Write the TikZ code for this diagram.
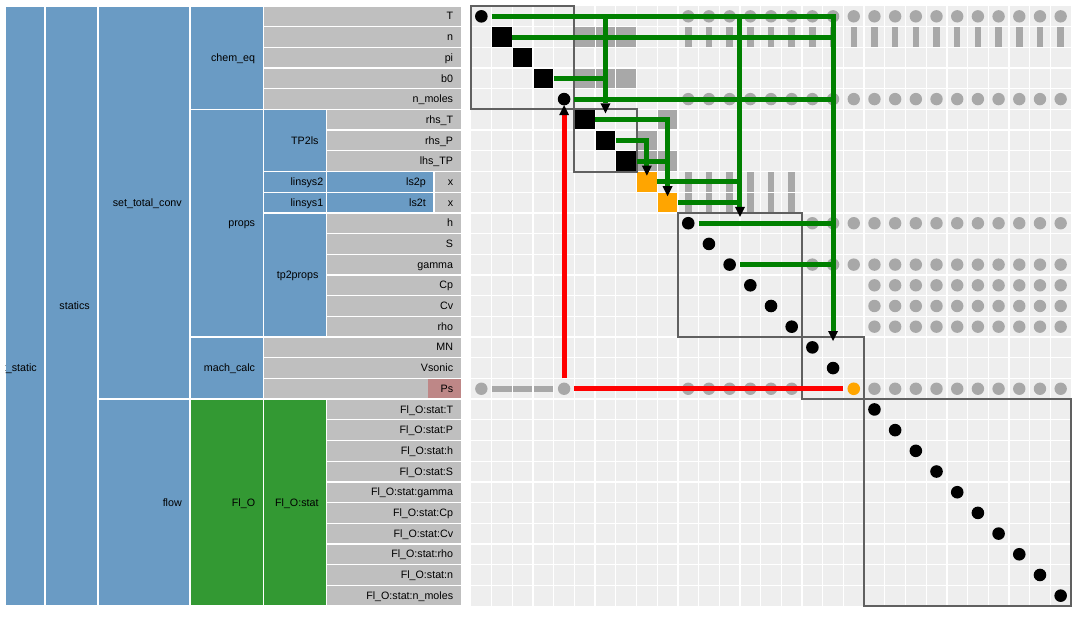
\documentclass[tikz,border=0pt]{standalone}
\usepackage{fontspec}
\setmainfont{Liberation Sans}
\usetikzlibrary{calc}
\definecolor{grp}{RGB}{106,155,196}
\definecolor{varc}{RGB}{191,191,191}
\definecolor{flo}{RGB}{51,153,51}
\definecolor{psc}{RGB}{190,135,135}
\definecolor{cellbg}{RGB}{238,238,238}
\definecolor{conn}{RGB}{168,168,168}
\definecolor{boxc}{RGB}{96,96,96}
\definecolor{arrg}{RGB}{0,128,0}
\definecolor{orng}{RGB}{255,165,0}
\newcommand\mX[1]{(471+(#1)*20.6897)}
\newcommand\mY[1]{(6+(#1)*20.6897)}
\newcommand\hcell[5]{\filldraw[fill=#5,hcell] (#1,{\mY{#3}}) rectangle (#2,{\mY{#4}});}
\newcommand\hlab[4]{\node[lbl] (#1) at (#2,{\mY{#3}+3.6}) {#4};}
\tikzset{
 hcell/.style={draw=white,line width=1.3pt},
 lbl/.style={anchor=base east,inner sep=0pt,font=\fontsize{10.7}{12}\selectfont},
 dcirc/.style={circle,fill=black,minimum size=12.6pt,inner sep=0pt},
 dsq/.style={fill=black,minimum size=19.4pt,inner sep=0pt},
 osq/.style={fill=orng,minimum size=19.4pt,inner sep=0pt},
 ocirc/.style={circle,fill=orng,minimum size=12.6pt,inner sep=0pt},
 gcirc/.style={circle,fill=conn,minimum size=12.4pt,inner sep=0pt},
 gsq/.style={fill=conn,minimum size=19.4pt,inner sep=0pt},
 gvbar/.style={fill=conn,minimum width=6.5pt,minimum height=19.4pt,inner sep=0pt},
 ghbar/.style={fill=conn,minimum width=19.4pt,minimum height=6pt,inner sep=0pt},
 grpbox/.style={draw=boxc,line width=2pt},
 garr/.style={draw=arrg,line width=5pt},
 rarr/.style={draw=red,line width=5pt},
 tipfill/.style={fill=black},
}
\begin{document}
\begin{tikzpicture}[x=1pt,y=-1pt]
\useasboundingbox (0,0) rectangle (1087,617);
\fill[white] (0,0) rectangle (1087,617);
% ---------------- hierarchy ----------------
\hcell{5.3}{45}{0}{29}{grp}
\begin{scope}
\clip (5.95,{\mY{0}}) rectangle (44.35,{\mY{29}});
\node[lbl] (root) at (37,371.6) {t\_static};
\end{scope}
\hcell{45}{98}{0}{29}{grp}
\hlab{statics}{90}{14.5}{statics}
\hcell{98}{190}{0}{19}{grp}
\hlab{stc}{182}{9.5}{set\_total\_conv}
\hcell{98}{190}{19}{29}{grp}
\hlab{flow}{182}{24}{flow}
\hcell{190}{263.3}{0}{5}{grp}
\hlab{chem}{255.3}{2.5}{chem\_eq}
\hcell{190}{263.3}{5}{16}{grp}
\hlab{props}{255.3}{10.5}{props}
\hcell{190}{263.3}{16}{19}{grp}
\hlab{mach}{255.3}{17.5}{mach\_calc}
\hcell{190}{263.3}{19}{29}{flo}
\hlab{flo}{255.3}{24}{Fl\_O}
% chem_eq variables
\foreach \r/\t in {0/T,1/n,2/pi,3/b0,4/n\_moles}{
  \hcell{263.3}{461.3}{\r}{\r+1}{varc}
  \hlab{v\r}{453.3}{\r+0.5}{\t}
}
\hcell{263.3}{326.7}{5}{8}{grp}
\hlab{tp2ls}{318.7}{6.5}{TP2ls}
\foreach \r/\t in {5/rhs\_T,6/rhs\_P,7/lhs\_TP}{
  \hcell{326.7}{461.3}{\r}{\r+1}{varc}
  \hlab{v\r}{453.3}{\r+0.5}{\t}
}
\hcell{263.3}{326.7}{8}{9}{grp}
\hlab{ls2}{323.5}{8.5}{linsys2}
\hcell{326.7}{434}{8}{9}{grp}
\hlab{ls2p}{426}{8.5}{ls2p}
\hcell{434}{461.3}{8}{9}{varc}
\hlab{v8}{453.3}{8.5}{x}
\hcell{263.3}{326.7}{9}{10}{grp}
\hlab{ls1}{323.5}{9.5}{linsys1}
\hcell{326.7}{434}{9}{10}{grp}
\hlab{ls2t}{426}{9.5}{ls2t}
\hcell{434}{461.3}{9}{10}{varc}
\hlab{v9}{453.3}{9.5}{x}
\hcell{263.3}{326.7}{10}{16}{grp}
\hlab{tpp}{318.7}{13}{tp2props}
\foreach \r/\t in {10/h,11/S,12/gamma,13/Cp,14/Cv,15/rho}{
  \hcell{326.7}{461.3}{\r}{\r+1}{varc}
  \hlab{v\r}{453.3}{\r+0.5}{\t}
}
\foreach \r/\t in {16/MN,17/Vsonic,18/Ps}{
  \hcell{263.3}{461.3}{\r}{\r+1}{varc}
}
\fill[psc] (428,{\mY{18}+0.65}) rectangle (460.65,{\mY{19}-0.65});
\foreach \r/\t in {16/MN,17/Vsonic,18/Ps}{
  \hlab{v\r}{453.3}{\r+0.5}{\t}
}
\hcell{263.3}{326.7}{19}{29}{flo}
\hlab{flst}{318.7}{24}{Fl\_O:stat}
\foreach \r/\t in {19/T,20/P,21/h,22/S,23/gamma,24/Cp,25/Cv,26/rho,27/n,28/n\_moles}{
  \hcell{326.7}{461.3}{\r}{\r+1}{varc}
  \hlab{v\r}{453.3}{\r+0.5}{Fl\_O:stat:\t}
}
% ---------------- matrix ----------------
\fill[cellbg] ({\mX{0}},{\mY{0}}) rectangle ({\mX{29}},{\mY{29}});
\foreach \i in {1,...,28}{
  \draw[white,line width=1.3pt] ({\mX{\i}},{\mY{0}}) -- ({\mX{\i}},{\mY{29}});
  \draw[white,line width=1.3pt] ({\mX{0}},{\mY{\i}}) -- ({\mX{29}},{\mY{\i}});
}
% off-diagonal connections
\foreach \c in {10,...,28}{
  \node[gcirc] (a0-\c) at ({\mX{\c+0.5}},{\mY{0.5}}) {};
  \node[gvbar] (a1-\c) at ({\mX{\c+0.5}},{\mY{1.5}}) {};
  \node[gcirc] (a4-\c) at ({\mX{\c+0.5}},{\mY{4.5}}) {};
}
\foreach \c in {5,6,7}{
  \node[gsq] (s1-\c) at ({\mX{\c+0.5}},{\mY{1.5}}) {};
  \node[gsq] (s3-\c) at ({\mX{\c+0.5}},{\mY{3.5}}) {};
}
\node[gsq] (s5-9) at ({\mX{9.5}},{\mY{5.5}}) {};
\node[gsq] (s6-8) at ({\mX{8.5}},{\mY{6.5}}) {};
\node[gsq] (s7-8) at ({\mX{8.5}},{\mY{7.5}}) {};
\node[gsq] (s7-9) at ({\mX{9.5}},{\mY{7.5}}) {};
\foreach \c in {10,...,15}{
  \node[gvbar] (b8-\c) at ({\mX{\c+0.5}},{\mY{8.5}}) {};
  \node[gvbar] (b9-\c) at ({\mX{\c+0.5}},{\mY{9.5}}) {};
  \node[gcirc] (a18-\c) at ({\mX{\c+0.5}},{\mY{18.5}}) {};
}
\foreach \c in {16,...,28}{
  \node[gcirc] (a10-\c) at ({\mX{\c+0.5}},{\mY{10.5}}) {};
  \node[gcirc] (a12-\c) at ({\mX{\c+0.5}},{\mY{12.5}}) {};
}
\foreach \c in {19,...,28}{
  \node[gcirc] (a13-\c) at ({\mX{\c+0.5}},{\mY{13.5}}) {};
  \node[gcirc] (a14-\c) at ({\mX{\c+0.5}},{\mY{14.5}}) {};
  \node[gcirc] (a15-\c) at ({\mX{\c+0.5}},{\mY{15.5}}) {};
  \node[gcirc] (a18-\c) at ({\mX{\c+0.5}},{\mY{18.5}}) {};
}
\node[gcirc] (a18-0) at ({\mX{0.5}},{\mY{18.5}}) {};
\node[gcirc] (a18-4) at ({\mX{4.5}},{\mY{18.5}}) {};
\foreach \c in {1,2,3}{
  \node[ghbar] (h18-\c) at ({\mX{\c+0.5}},{\mY{18.5}}) {};
}
% diagonal
\foreach \r/\s in {0/dcirc,1/dsq,2/dsq,3/dsq,4/dcirc,5/dsq,6/dsq,7/dsq,8/osq,9/osq,
  10/dcirc,11/dcirc,12/dcirc,13/dcirc,14/dcirc,15/dcirc,16/dcirc,17/dcirc,18/ocirc,
  19/dcirc,20/dcirc,21/dcirc,22/dcirc,23/dcirc,24/dcirc,25/dcirc,26/dcirc,27/dcirc,28/dcirc}{
  \node[\s] (d\r) at ({\mX{\r+0.5}},{\mY{\r+0.5}}) {};
}
% group boxes
\draw[grpbox] ({\mX{0}},{\mY{0}}) rectangle ({\mX{5}},{\mY{5}});
\draw[grpbox] ({\mX{5}},{\mY{5}}) rectangle ({\mX{8}},{\mY{8}});
\draw[grpbox] ({\mX{10}},{\mY{10}}) rectangle ({\mX{16}},{\mY{16}});
\draw[grpbox] ({\mX{16}},{\mY{16}}) rectangle ({\mX{19}},{\mY{19}});
\draw[grpbox] ({\mX{19}},{\mY{19}}) rectangle ({\mX{29}},{\mY{29}});
% ---------------- connection paths ----------------
\coordinate (r0s) at ({\mX{1}},{\mY{0.5}});
\coordinate (r0e) at ({\mX{17.5}},{\mY{0.5}});
\coordinate (c17b) at ({\mX{17.5}},{\mY{16}-6});
\coordinate (c17t) at ({\mX{17.5}},{\mY{16}+4});
\coordinate (c6s) at ({\mX{6.5}},{\mY{0.5}});
\coordinate (c6b) at ({\mX{6.5}},{\mY{5}-6});
\coordinate (c6t) at ({\mX{6.5}},{\mY{5}+4});
\coordinate (c13s) at ({\mX{13}},{\mY{0.5}});
\coordinate (c13b) at ({\mX{13}},{\mY{10}-6});
\coordinate (c13t) at ({\mX{13}},{\mY{10}+4});
\coordinate (r1s) at ({\mX{2}},{\mY{1.5}});
\coordinate (r1e) at ({\mX{17.5}},{\mY{1.5}});
\coordinate (r3s) at ({\mX{4}},{\mY{3.5}});
\coordinate (r3e) at ({\mX{6.5}},{\mY{3.5}});
\coordinate (r4s) at ({\mX{5}},{\mY{4.5}});
\coordinate (r4e) at ({\mX{17.5}},{\mY{4.5}});
\coordinate (r5s) at ({\mX{6}},{\mY{5.5}});
\coordinate (r5e) at ({\mX{9.5}},{\mY{5.5}});
\coordinate (c9b) at ({\mX{9.5}},{\mY{9}-6});
\coordinate (c9t) at ({\mX{9.5}},{\mY{9}+4});
\coordinate (r6s) at ({\mX{7}},{\mY{6.5}});
\coordinate (r6e) at ({\mX{8.5}},{\mY{6.5}});
\coordinate (c8b) at ({\mX{8.5}},{\mY{8}-6});
\coordinate (c8t) at ({\mX{8.5}},{\mY{8}+4});
\coordinate (r7s) at ({\mX{8}},{\mY{7.5}});
\coordinate (r7e) at ({\mX{9.5}},{\mY{7.5}});
\coordinate (r8s) at ({\mX{9}},{\mY{8.5}});
\coordinate (r8e) at ({\mX{13}},{\mY{8.5}});
\coordinate (r9s) at ({\mX{10}},{\mY{9.5}});
\coordinate (r9e) at ({\mX{13}},{\mY{9.5}});
\coordinate (r10s) at ({\mX{11}},{\mY{10.5}});
\coordinate (r10e) at ({\mX{17.5}},{\mY{10.5}});
\coordinate (r12s) at ({\mX{13}},{\mY{12.5}});
\coordinate (r12e) at ({\mX{17.5}},{\mY{12.5}});
\coordinate (p18s) at ({\mX{18}},{\mY{18.5}});
\coordinate (p18e) at ({\mX{5}},{\mY{18.5}});
\coordinate (q4s) at ({\mX{4.5}},{\mY{18}});
\coordinate (q4b) at ({\mX{4.5}},{\mY{5}+5.6});
\coordinate (q4t) at ({\mX{4.5}},{\mY{5}-4.4});
\draw[garr] (r0s) -- (r0e) -- (c17b);
\draw[garr] (c6s) -- (c6b);
\draw[garr] (c13s) -- (c13b);
\draw[garr] (r1s) -- (r1e);
\draw[garr] (r3s) -- (r3e);
\draw[garr] (r4s) -- (r4e);
\draw[garr] (r5s) -- (r5e) -- (c9b);
\draw[garr] (r6s) -- (r6e) -- (c8b);
\draw[garr] (r7s) -- (r7e);
\draw[garr] (r8s) -- (r8e);
\draw[garr] (r9s) -- (r9e);
\draw[garr] (r10s) -- (r10e);
\draw[garr] (r12s) -- (r12e);
\draw[rarr] (p18s) -- (p18e);
\draw[rarr] (q4s) -- (q4b);
\foreach \b/\t in {c17b/c17t,c6b/c6t,c13b/c13t,c9b/c9t,c8b/c8t,q4b/q4t}{
  \fill[tipfill] ($(\b)+(-5,0)$) -- ($(\b)+(5,0)$) -- (\t) -- cycle;
}
\end{tikzpicture}
\end{document}
